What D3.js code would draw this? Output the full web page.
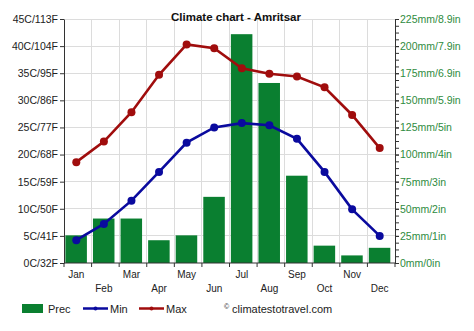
<!DOCTYPE html>
<html><head><meta charset="utf-8">
<script src="https://cdn.jsdelivr.net/npm/d3@7"></script>
<style>body{margin:0;background:#fff;}svg{display:block;font-family:"Liberation Sans",Arial,sans-serif;}</style>
</head><body><svg id="c" width="474" height="331"></svg>
<script>
const months = ["Jan","Feb","Mar","Apr","May","Jun","Jul","Aug","Sep","Oct","Nov","Dec"];
const prec = [25.5, 41, 41, 21, 25.5, 61, 211, 166, 80.5, 16, 7, 14];
const tmin = [4.2, 7.2, 11.5, 16.8, 22.2, 25.0, 25.8, 25.4, 22.9, 16.8, 9.9, 5.0];
const tmax = [18.6, 22.4, 27.8, 34.7, 40.3, 39.6, 35.9, 34.9, 34.4, 32.4, 27.3, 21.2];
const tempTicks = [0,5,10,15,20,25,30,35,40,45];
const tempLabels = ["0C/32F","5C/41F","10C/50F","15C/59F","20C/68F","25C/77F","30C/86F","35C/95F","40C/104F","45C/113F"];
const precTicks = [0,25,50,75,100,125,150,175,200,225];
const precLabels = ["0mm/0in","25mm/1in","50mm/2in","75mm/3in","100mm/4in","125mm/5in","150mm/5.9in","175mm/6.9in","200mm/7.9in","225mm/8.9in"];

const svg = d3.select("#c");
const L = 64, R = 395, T = 19, B = 263;
const xb = d3.scaleBand().domain(months).range([L, R]);
const yT = d3.scaleLinear().domain([0,45]).range([B,T]);
const yP = d3.scaleLinear().domain([0,225]).range([B,T]);

// grid
const g = svg.append("g");
g.selectAll("line.h").data(tempTicks.slice(1)).enter().append("line")
  .attr("x1",L).attr("x2",R).attr("y1",d=>yT(d)).attr("y2",d=>yT(d))
  .attr("stroke","#dcdcdc").attr("stroke-width",1).attr("shape-rendering","crispEdges");
g.selectAll("line.v").data(months.slice(1)).enter().append("line")
  .attr("x1",d=>xb(d)).attr("x2",d=>xb(d)).attr("y1",T).attr("y2",B)
  .attr("stroke","#dcdcdc").attr("stroke-width",1).attr("shape-rendering","crispEdges");

// bars
svg.append("g").selectAll("rect").data(prec).enter().append("rect")
  .attr("x",(d,i)=>xb(months[i]) + xb.bandwidth()*0.05)
  .attr("width",xb.bandwidth()*0.78)
  .attr("y",d=>yP(d)).attr("height",d=>B-yP(d))
  .attr("fill","#0a7f30");

// lines
const cx = i => xb(months[i]) + xb.bandwidth()/2 - 1.5;
function series(data,color){
  const line = d3.line().x((d,i)=>cx(i)).y(d=>yT(d));
  svg.append("path").datum(data).attr("d",line).attr("fill","none")
    .attr("stroke",color).attr("stroke-width",2.6);
  svg.append("g").selectAll("circle").data(data).enter().append("circle")
    .attr("cx",(d,i)=>cx(i)).attr("cy",d=>yT(d)).attr("r",4).attr("fill",color);
}
series(tmin,"#0a0a9e");
series(tmax,"#a00d0d");

// left axis
const la = svg.append("g").attr("transform",`translate(${L},0)`)
  .call(d3.axisLeft(yT).tickValues(tempTicks).tickFormat((d,i)=>tempLabels[i]).tickSize(4).tickSizeOuter(0));
la.select(".domain").attr("stroke","#333");
la.selectAll(".tick line").attr("stroke","#333");
la.selectAll("text").attr("fill","#222").attr("font-size","10.5px").attr("x",-6);

// right axis
const minorP = d3.range(0,225.01,6.25);
const ra = svg.append("g").attr("transform",`translate(${R},0)`);
ra.call(d3.axisRight(yP).tickValues(minorP).tickFormat("").tickSize(4).tickSizeOuter(0));
ra.select(".domain").attr("stroke","#333");
ra.selectAll(".tick line").attr("stroke","#333");
const ra2 = svg.append("g").attr("transform",`translate(${R},0)`)
  .call(d3.axisRight(yP).tickValues(precTicks).tickFormat((d,i)=>precLabels[i]).tickSize(4).tickSizeOuter(0));
ra2.select(".domain").remove();
ra2.selectAll(".tick line").attr("stroke","#333");
ra2.selectAll("text").attr("fill","#2e8b3e").attr("font-size","10.5px").attr("x",5);

// bottom axis
const ba = svg.append("g").attr("transform",`translate(0,${B})`);
ba.append("line").attr("x1",L).attr("x2",R).attr("y1",0).attr("y2",0).attr("stroke","#333");
ba.selectAll("line.t").data(months.concat(["end"])).enter().append("line")
  .attr("x1",(d,i)=> i<12 ? xb(d) : R).attr("x2",(d,i)=> i<12 ? xb(d) : R)
  .attr("y1",0).attr("y2",4).attr("stroke","#333");
ba.selectAll("text").data(months).enter().append("text")
  .attr("x",(d,i)=>cx(i)).attr("y",(d,i)=> i%2===0 ? 15 : 29)
  .attr("text-anchor","middle").attr("font-size","10px").attr("fill","#222").text(d=>d);

// title
svg.append("text").attr("x",236).attr("y",21).attr("text-anchor","middle")
  .attr("font-size","11.5px").attr("font-weight","bold").attr("fill","#111").text("Climate chart - Amritsar");

// legend
const lg = svg.append("g");
lg.append("rect").attr("x",22).attr("y",304).attr("width",21).attr("height",9).attr("fill","#0a7f30");
lg.append("text").attr("x",48).attr("y",313).attr("font-size","11px").attr("fill","#222").text("Prec");
lg.append("line").attr("x1",83).attr("x2",108).attr("y1",308.5).attr("y2",308.5).attr("stroke","#0a0a9e").attr("stroke-width",2.5);
lg.append("circle").attr("cx",95.5).attr("cy",308.5).attr("r",2).attr("fill","#0a0a9e");
lg.append("text").attr("x",110).attr("y",313).attr("font-size","11px").attr("fill","#222").text("Min");
lg.append("line").attr("x1",139).attr("x2",164).attr("y1",308.5).attr("y2",308.5).attr("stroke","#a00d0d").attr("stroke-width",2.5);
lg.append("circle").attr("cx",151.5).attr("cy",308.5).attr("r",2).attr("fill","#a00d0d");
lg.append("text").attr("x",166).attr("y",313).attr("font-size","11px").attr("fill","#222").text("Max");
lg.append("text").attr("x",224).attr("y",309).attr("font-size","7px").attr("fill","#222").text("©");
lg.append("text").attr("x",232).attr("y",313).attr("font-size","11px").attr("fill","#222").text("climatestotravel.com");
</script></body></html>
